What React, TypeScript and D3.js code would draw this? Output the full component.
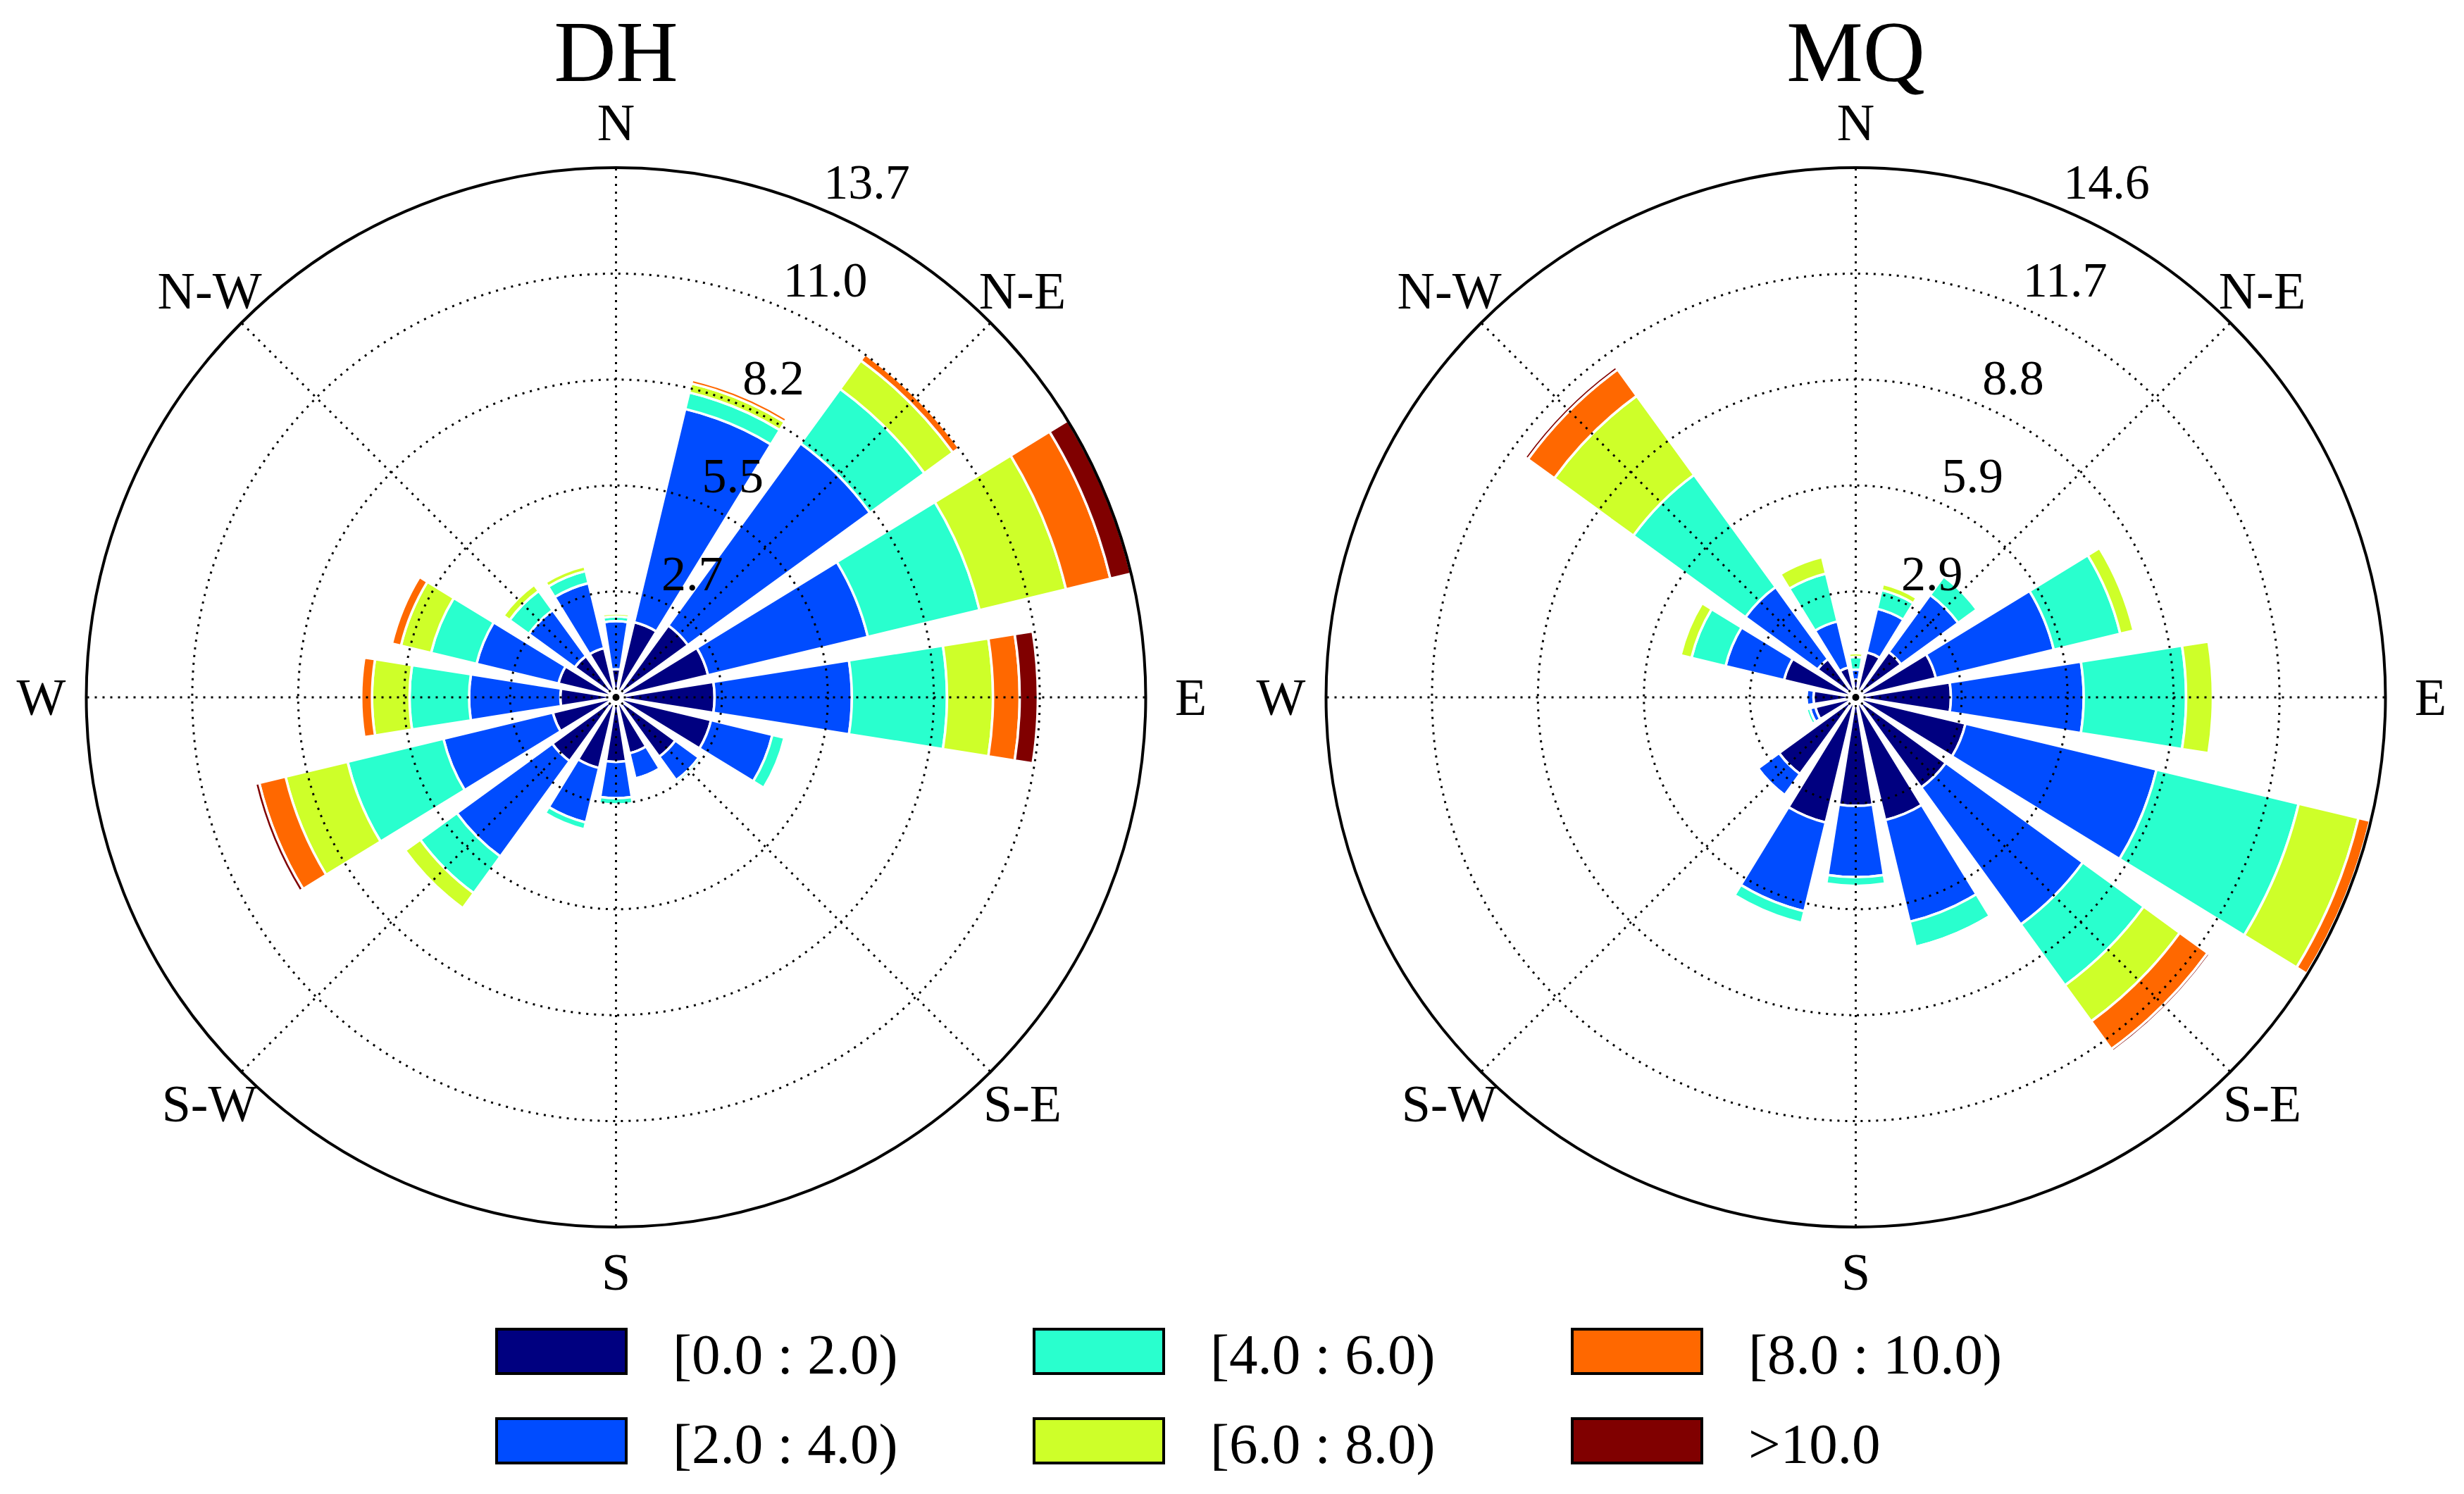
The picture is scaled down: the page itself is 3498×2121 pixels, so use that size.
import * as d3 from "d3";

// 16 compass sectors, clockwise from north
const DIRECTIONS = ["N", "NNE", "NE", "ENE", "E", "ESE", "SE", "SSE", "S", "SSW", "SW", "WSW", "W", "WNW", "NW", "NNW"];
const COMPASS_LABELS = ["N", "N-E", "E", "S-E", "S", "S-W", "W", "N-W"];
const SPEED_BINS = ["[0.0 : 2.0)", "[2.0 : 4.0)", "[4.0 : 6.0)", "[6.0 : 8.0)", "[8.0 : 10.0)", ">10.0"];
const BIN_COLORS = ["#000080", "#004cff", "#29ffce", "#ceff29", "#ff6800", "#800000"];

// frequency (%) per speed bin, one value per direction (order of DIRECTIONS)
const DH_0_2 = [0.73, 2.0, 2.3, 2.45, 2.55, 2.53, 1.9, 1.49, 1.67, 1.88, 2.04, 1.68, 1.44, 1.53, 1.32, 1.31];
const DH_2_4 = [1.24, 5.67, 5.82, 4.25, 3.55, 1.63, 0.75, 0.67, 0.94, 1.45, 3.05, 2.91, 2.36, 2.18, 1.47, 1.73];
const DH_4_6 = [0.12, 0.44, 1.74, 2.97, 2.46, 0.32, 0.07, 0.06, 0.16, 0.18, 1.17, 2.55, 1.54, 1.21, 0.61, 0.32];
const DH_6_8 = [0.08, 0.24, 0.91, 2.3, 1.19, 0, 0, 0, 0, 0, 0.48, 1.65, 0.97, 0.8, 0.2, 0.13];
const DH_8_10 = [0, 0.1, 0.2, 1.18, 0.69, 0, 0, 0, 0, 0, 0, 0.7, 0.28, 0.24, 0, 0];
const DH_10 = [0, 0, 0, 0.55, 0.47, 0, 0, 0, 0, 0, 0, 0.11, 0, 0, 0, 0];

const MQ_0_2 = [0.49, 1.28, 1.55, 2.28, 2.63, 3.12, 3.08, 3.49, 3.0, 3.56, 2.62, 1.15, 1.17, 2.04, 1.31, 0.85];
const MQ_2_4 = [0.28, 1.24, 1.95, 3.35, 3.67, 5.43, 4.68, 2.89, 1.97, 2.52, 0.72, 0.15, 0.19, 1.66, 2.46, 1.31];
const MQ_4_6 = [0.35, 0.53, 0.63, 1.89, 2.83, 4.04, 2.08, 0.71, 0.24, 0.33, 0.06, 0.1, 0, 0.97, 3.83, 1.36];
const MQ_6_8 = [0.1, 0.17, 0, 0.38, 0.74, 1.7, 1.23, 0.05, 0, 0, 0, 0, 0, 0.31, 2.7, 0.47];
const MQ_8_10 = [0, 0, 0, 0, 0, 0.33, 0.95, 0, 0, 0, 0, 0, 0, 0, 0.9, 0];
const MQ_10 = [0, 0, 0, 0, 0, 0.02, 0.08, 0, 0, 0, 0, 0, 0, 0, 0.1, 0];

const STATIONS = [
  { name: "DH", cx: 874.5, bins: [DH_0_2, DH_2_4, DH_4_6, DH_6_8, DH_8_10, DH_10] },
  { name: "MQ", cx: 2634.5, bins: [MQ_0_2, MQ_2_4, MQ_4_6, MQ_6_8, MQ_8_10, MQ_10] },
];

const WIDTH = 3498;
const HEIGHT = 2121;
const CY = 990;
const RADIUS = 752;
const FONT = "'Liberation Serif', 'Times New Roman', serif";
const toRad = (deg: number) => (deg * Math.PI) / 180;

function Rose({ name, cx, bins }: { name: string; cx: number; bins: number[][] }) {
  const totals = DIRECTIONS.map((_, i) => d3.sum(bins, (b) => b[i]));
  const rmax = d3.max(totals) as number;
  const r = d3.scaleLinear().domain([0, rmax]).range([0, RADIUS]);
  const ticks = d3.range(1, 6).map((k) => (rmax * k) / 5);
  const sector = 360 / DIRECTIONS.length;
  const opening = sector * 0.8;
  const arc = d3.arc<{ r0: number; r1: number; a0: number; a1: number }>()
    .innerRadius((d) => d.r0)
    .outerRadius((d) => d.r1)
    .startAngle((d) => d.a0)
    .endAngle((d) => d.a1);

  const segments: { key: string; d: string; color: string }[] = [];
  DIRECTIONS.forEach((dir, i) => {
    let acc = 0;
    bins.forEach((b, k) => {
      const v = b[i];
      if (v > 0) {
        segments.push({
          key: `${dir}-${k}`,
          color: BIN_COLORS[k],
          d: arc({
            r0: r(acc),
            r1: r(acc + v),
            a0: toRad(i * sector - opening / 2),
            a1: toRad(i * sector + opening / 2),
          }) as string,
        });
      }
      acc += v;
    });
  });

  const labelAngle = toRad(22.5);

  return (
    <g transform={`translate(${cx},${CY})`}>
      <text x={0} y={115 - CY} textAnchor="middle" fontSize={122} fontFamily={FONT}>
        {name}
      </text>
      {segments.map((s) => (
        <path key={s.key} d={s.d} fill={s.color} stroke="#ffffff" strokeWidth={3.5} />
      ))}
      {/* dotted grid on top of the bars */}
      {ticks.slice(0, 4).map((t) => (
        <circle key={t} r={r(t)} fill="none" stroke="#000" strokeWidth={3} strokeDasharray="3 8" />
      ))}
      {d3.range(8).map((k) => {
        const a = toRad(k * 45);
        return (
          <line
            key={k}
            x1={0}
            y1={0}
            x2={RADIUS * Math.sin(a)}
            y2={-RADIUS * Math.cos(a)}
            stroke="#000"
            strokeWidth={3}
            strokeDasharray="3 8"
          />
        );
      })}
      <circle r={5} fill="#000" />
      <circle r={RADIUS} fill="none" stroke="#000" strokeWidth={4} />
      {ticks.map((t) => (
        <text
          key={`t${t}`}
          x={r(t) * Math.sin(labelAngle) + 7}
          y={-r(t) * Math.cos(labelAngle) - 13}
          fontSize={70}
          fontFamily={FONT}
        >
          {d3.format(".1f")(t)}
        </text>
      ))}
      {COMPASS_LABELS.map((lab, k) => {
        const a = toRad(k * 45);
        return (
          <text
            key={lab}
            x={816 * Math.sin(a)}
            y={-816 * Math.cos(a)}
            textAnchor="middle"
            dominantBaseline="central"
            fontSize={74}
            fontFamily={FONT}
          >
            {lab}
          </text>
        );
      })}
    </g>
  );
}

function Legend() {
  const colX = [705, 1468, 2232];
  const rowY = [1887, 2014];
  return (
    <g>
      {SPEED_BINS.map((lab, k) => {
        const x = colX[Math.floor(k / 2)];
        const y = rowY[k % 2];
        return (
          <g key={lab}>
            <rect x={x} y={y} width={184} height={63} fill={BIN_COLORS[k]} stroke="#000" strokeWidth={4} />
            <text x={x + 250} y={y + 63} fontSize={81} fontFamily={FONT}>
              {lab}
            </text>
          </g>
        );
      })}
    </g>
  );
}

export default function App() {
  return (
    <svg
      width={WIDTH}
      height={HEIGHT}
      viewBox={`0 0 ${WIDTH} ${HEIGHT}`}
      style={{ position: "absolute", left: 0, top: 0, background: "#fff" }}
    >
      <rect width={WIDTH} height={HEIGHT} fill="#fff" />
      {STATIONS.map((s) => (
        <Rose key={s.name} name={s.name} cx={s.cx} bins={s.bins} />
      ))}
      <Legend />
    </svg>
  );
}
